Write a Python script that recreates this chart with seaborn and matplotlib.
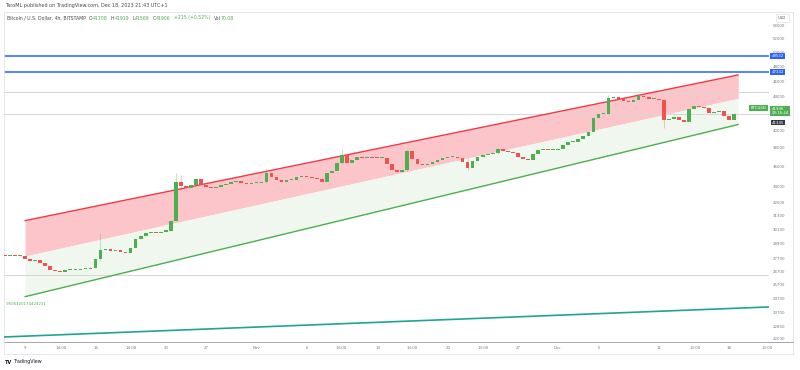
import numpy as np
import pandas as pd
import matplotlib.pyplot as plt
import matplotlib.transforms as mtrans
from matplotlib.lines import Line2D
from matplotlib.ticker import NullLocator
import seaborn as sns

# ==================================================
# 1. Data (BTCUSD, 12h closes; t = days since Oct 9 2023)
# ==================================================
first_open = 27950
close_oct_1 = [27900, 27950, 27900, 27950, 27700, 27550, 27600, 27400, 27100, 26850,
               26750, 26700, 26800, 26850, 26850, 26880, 26900, 26950, 27700, 28400,
               28450, 28350, 28400, 28250, 28150, 28600, 29300, 29600, 29800, 29900,
               29800, 29950, 30000, 30900, 34500, 34100]
close_oct_2 = [33900, 34200, 34800, 34200, 34000, 33900, 34000, 34200, 34300, 34500,
               34600, 34400, 34300, 34400, 34400, 34500, 35400, 35000, 34700, 34500,
               34700, 34700, 35000, 35100, 35000, 34900, 34800, 34500, 35400, 35600,
               36400, 37300, 36500, 36800, 37100, 37000]
close_nov = [37100, 37000, 36950, 37000, 36300, 35700, 35500, 35700, 37700, 36900,
             36300, 36200, 36300, 36600, 36800, 37000, 37100, 37100, 37000, 36600,
             35900, 36700, 37100, 37300, 37400, 37500, 37900, 37700, 37600, 37500,
             37100, 36900, 36800, 37400, 37800, 37900, 37800, 37800]
close_dec = [37900, 38400, 38700, 38700, 39000, 39400, 39800, 41500, 41900, 42000,
             43900, 44000, 43800, 43500, 43400, 43700, 44100, 44000, 43800, 43800,
             43700, 41200, 41300, 41600, 41200, 41000, 42600, 42900, 42800, 42700,
             42100, 42200, 42300, 41700, 41200, 41906]

# visible wicks (candle index, low, high)
wick_idx = [19, 34, 35, 52, 67, 80, 92, 98, 120, 131]
wick_low = [27600, 30900, 33700, 34400, 36300, 35600, 35700, 37400, 41900, 40300]
wick_high = [29850, 35400, 35200, 35800, 37900, 37900, 37000, 38100, 44300, 43800]

# drawings
chan_t = [0, 70.9]
chan_top = [30900, 46910]
chan_mid = [27920, 43870]
chan_bot = [24850, 40700]
teal_t = [-2.1, 74.0]
teal_val = [22140, 24130]
blue_levels = [49532, 47342]
grey_levels = [44700, 41906, 26450]
last_price = 41906
chan_low_label = 41345

# price scale labels (42000 sits under the last-price tag)
price_ticks = [54000, 52000, 50000, 48000, 46000, 44000, 40000, 38000, 36000,
               34000, 32500, 31300, 30100, 28900, 27700, 26700, 25700, 24700, 23700,
               22800, 22000]
time_t = [0, 3.58, 7.03, 10.54, 14.02, 18, 23.03, 28, 31.4, 35.06, 38.44, 42.05,
          45.53, 49, 52.9, 57.05, 63, 66.6, 70, 73.76]
time_lbl = ["9", "14:00", "16", "14:00", "23", "27", "Nov", "6", "13:00", "13",
            "13:00", "20", "13:00", "27", "Dec", "5", "11", "13:00", "18", "13:00"]

# ==================================================
# 2. Style
# ==================================================
sns.set_style("white")
plt.rcParams["font.family"] = ["DejaVu Sans"]

UP, DOWN = "#4caf50", "#ef5350"
GREY_TXT = "#787b86"
FS = 2.8

W, H = 800, 370
fig = plt.figure(figsize=(8, 3.7), dpi=100)
ax = fig.add_axes([4 / W, 1 - 342 / H, 765 / W, 330 / H])
ax_p = fig.add_axes([769 / W, 1 - 342 / H, 24 / W, 330 / H], sharey=ax)
ax_p.set_zorder(5)

ax.set_yscale("log")
ax.set_xlim(-2.09, 73.96)
ax.set_ylim(21824, 56180)

# ==================================================
# 3. Channel + lines
# ==================================================
ax.fill_between(chan_t, chan_mid, chan_top, color="#fcc5c9", lw=0, zorder=1)
ax.fill_between(chan_t, chan_bot, chan_mid, color="#eff7ef", lw=0, zorder=1)

for lvl in grey_levels:
    ax.axhline(lvl, color="#d6d6d6", lw=0.7, zorder=1.5)
for lvl in blue_levels:
    ax.axhline(lvl, color="#2962ff", lw=1.1, zorder=2)

sns.lineplot(x=chan_t, y=chan_top, ax=ax, color="#f23645", lw=1.0, zorder=3)
sns.lineplot(x=chan_t, y=chan_bot, ax=ax, color="#4caf50", lw=1.0, zorder=3)
sns.lineplot(x=teal_t, y=teal_val, ax=ax, color="#22a393", lw=1.2, zorder=3)

ax.text(0.0015, 24340, ".9506320174424231", color=UP, fontsize=FS, va="center",
        ha="left", transform=mtrans.blended_transform_factory(ax.transAxes, ax.transData))

# ==================================================
# 4. Candles
# ==================================================
close = np.array(close_oct_1 + close_oct_2 + close_nov + close_dec, dtype=float)
t = -2 + 0.5 * np.arange(len(close))
opn = np.r_[first_open, close[:-1]]
up = close >= opn
colors = np.where(up, UP, DOWN)
bottom = np.minimum(opn, close)
height = np.maximum(np.abs(close - opn), close * 0.003)

wi = np.array(wick_idx)
ax.vlines(t[wi], wick_low, wick_high, colors=colors[wi], lw=0.5, alpha=0.45, zorder=3.5)
ax.bar(t, height, bottom=bottom, width=0.36, color=colors, lw=0, zorder=4)

# ==================================================
# 5. Axes / frame
# ==================================================
ax.yaxis.set_minor_locator(NullLocator())
ax.set_yticks([])
ax.set_xticks(time_t)
ax.set_xticklabels(time_lbl)
ax.tick_params(axis="x", length=0, pad=3.2, labelsize=FS, colors=GREY_TXT)
for s in ["top", "left"]:
    ax.spines[s].set_color("#e0e3eb")
    ax.spines[s].set_linewidth(0.6)
for s in ["bottom", "right"]:
    ax.spines[s].set_color("#9598a1")
    ax.spines[s].set_linewidth(0.6)

ax_p.set_facecolor("white")
ax_p.set_xticks([])
ax_p.tick_params(axis="y", length=0, labelleft=False)
ax_p.spines["left"].set_visible(False)
ax_p.spines["top"].set_color("#e0e3eb")
ax_p.spines["right"].set_color("#e0e3eb")
ax_p.spines["bottom"].set_color("#9598a1")
for s in ax_p.spines.values():
    s.set_linewidth(0.6)

ptr = mtrans.blended_transform_factory(ax_p.transAxes, ax_p.transData)
for v in price_ticks:
    ax_p.text(0.17, v, str(v), fontsize=FS, color=GREY_TXT, va="center", ha="left",
              transform=ptr, clip_on=True)

box = dict(boxstyle="square,pad=0.3", ec="none")
for v in blue_levels:
    ax_p.text(0.1, v, str(v), fontsize=FS, color="white", va="center", ha="left",
              transform=ptr, bbox={**box, "fc": "#2962ff"}, zorder=6)
ax_p.text(0.1, last_price * 1.01, f"{last_price}\n03:16:44", fontsize=FS, color="white",
          va="center", ha="left", transform=ptr, linespacing=1.2,
          bbox={**box, "fc": UP, "boxstyle": "square,pad=0.25"}, zorder=6)
ax_p.text(0.1, chan_low_label * 0.99, str(chan_low_label), fontsize=FS, color="white",
          va="center", ha="left", transform=ptr,
          bbox={**box, "fc": "#363a45", "boxstyle": "square,pad=0.2"}, zorder=7)
ax_p.text(0.55, 0.982, "USD", fontsize=FS, color="#555", va="center", ha="center",
          transform=ax_p.transAxes,
          bbox=dict(boxstyle="square,pad=0.6", fc="white", ec="#e0e3eb", lw=0.5), zorder=6)

ax.text(0.976, 42700, "BTCUSD", fontsize=FS, color="white", va="center", ha="left",
        transform=mtrans.blended_transform_factory(ax.transAxes, ax.transData),
        bbox={**box, "fc": UP}, zorder=6)

# bottom border of time scale
fig.add_artist(Line2D([4 / W, 793 / W], [1 - 354 / H] * 2, color="#e0e3eb", lw=0.6))
fig.add_artist(Line2D([4 / W, 4 / W], [1 - 354 / H, 1 - 342 / H], color="#e0e3eb", lw=0.6))
fig.add_artist(Line2D([793 / W, 793 / W], [1 - 354 / H, 1 - 342 / H], color="#e0e3eb", lw=0.6))

# ==================================================
# 6. Header / footer text
# ==================================================
fig.text(5 / W, 1 - 5 / H, "TaroML published on TradingView.com, Dec 18, 2023 21:43 UTC+1",
         fontsize=3.5, color="#4a4a4a", va="center")

header = [("Bitcoin / U.S. Dollar, 4h, BITSTAMP", "#4a4a4a", 0),
          ("O", "#4a4a4a", 2.4), ("41708", UP, 0),
          ("H", "#4a4a4a", 2.4), ("41919", UP, 0),
          ("L", "#4a4a4a", 2.4), ("41569", UP, 0),
          ("C", "#4a4a4a", 2.4), ("41906", UP, 0),
          ("+215 (+0.52%)", UP, 2.4),
          ("Vol", "#4a4a4a", 2.4), ("70.08", UP, 0)]
prev = ax.annotate(header[0][0], xy=(3 / 765, 1 - 6 / 330), xycoords="axes fraction",
                   fontsize=3.3, color=header[0][1], va="center", ha="left")
for s, c, gap in header[1:]:
    prev = ax.annotate(s, xy=(1, 0.5), xycoords=prev, xytext=(gap, 0),
                       textcoords="offset points", fontsize=3.3, color=c,
                       va="center", ha="left")

logo = fig.text(5 / W, 1 - 362 / H, "TV", fontsize=3.6, fontweight="bold",
                color="#131722", va="center")
ax.annotate("TradingView", xy=(1, 0.5), xycoords=logo, xytext=(1.2, 0),
            textcoords="offset points", fontsize=3.4, color="#131722",
            va="center", ha="left", annotation_clip=False)

fig.savefig("out.png", dpi=100)
plt.close(fig)
